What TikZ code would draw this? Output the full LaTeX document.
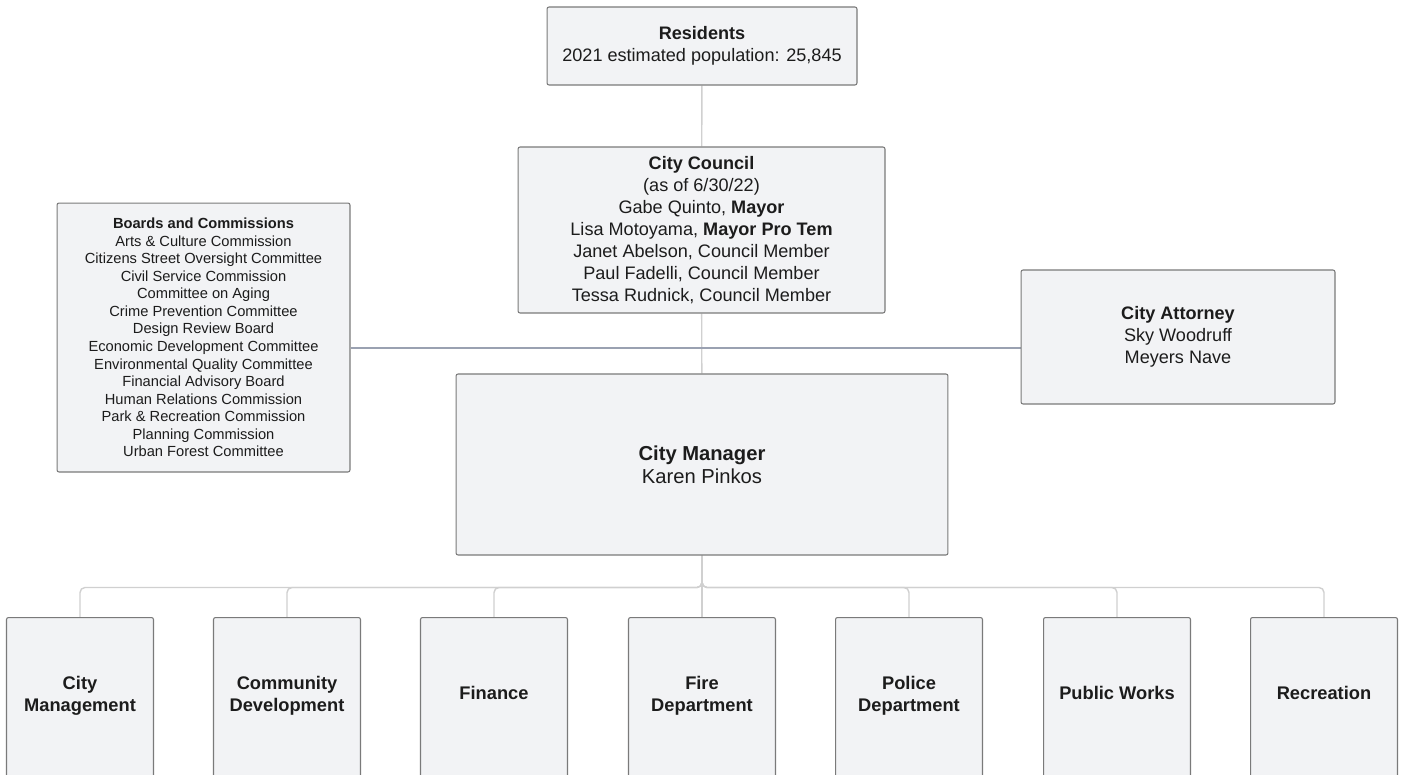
\documentclass[tikz,border=0pt]{standalone}
\usepackage{fontspec}
\setmainfont{Liberation Sans}
\usepackage{tikz}
\usetikzlibrary{positioning}
\definecolor{boxfill}{HTML}{F2F3F5}
\definecolor{boxline}{HTML}{7A7A7A}
\definecolor{linkgray}{HTML}{D0D0D0}
\definecolor{linkblue}{HTML}{9AA1B1}
\definecolor{inkblack}{HTML}{1C1C1C}
\pgfdeclarelayer{edgelayer}
\pgfsetlayers{edgelayer,main}

\begin{document}
\begin{tikzpicture}[x=0.02cm,y=-0.02cm,
  box/.style={draw=boxline,fill=boxfill,line width=0.6pt,rounded corners=0.04cm,align=center,text=inkblack,inner sep=0pt},
  main/.style={box,font=\fontsize{10.3}{12.5}\selectfont},
  dept/.style={box,anchor=north,minimum width=2.94cm,minimum height=4cm},
  dlabel/.style={align=center,text=inkblack,font=\fontsize{10.4}{12.5}\selectfont\bfseries},
  elbow/.style={rounded corners=0.1cm,to path={-- ++(0,32) -| (\tikztotarget)}}]
\clip (0,0) rectangle (1405,774);
\node[main,minimum width=6.2cm,minimum height=1.56cm] (R) at (702,46) {\textbf{Residents}\\2021 estimated population: 25,845};
\node[main,minimum width=7.34cm,minimum height=3.32cm] (C) at (701.5,230) {\textbf{City Council}\\(as of 6/30/22)\\Gabe Quinto, \textbf{Mayor}\\Lisa Motoyama, \textbf{Mayor Pro Tem}\\Janet Abelson, Council Member\\Paul Fadelli, Council Member\\Tessa Rudnick, Council Member};
\node[box,minimum width=5.86cm,minimum height=5.38cm,font=\fontsize{8.35}{10}\selectfont] (B) at (203.5,337.5) {\textbf{Boards and Commissions}\\Arts \& Culture Commission\\Citizens Street Oversight Committee\\Civil Service Commission\\Committee on Aging\\Crime Prevention Committee\\Design Review Board\\Economic Development Committee\\Environmental Quality Committee\\Financial Advisory Board\\Human Relations Commission\\Park \& Recreation Commission\\Planning Commission\\Urban Forest Committee};
\node[main,minimum width=6.28cm,minimum height=2.68cm] (A) at (1178,337) {\textbf{City Attorney}\\Sky Woodruff\\Meyers Nave};
\node[box,minimum width=9.84cm,minimum height=3.62cm,font=\fontsize{11.5}{13}\selectfont] (M) at (702,464.5) {\textbf{City Manager}\\Karen Pinkos};
\coordinate (J) at (702,348);

% departments
\node[dept] (D1) at (80,617) {};
\node[dept] (D2) at (287,617) {};
\node[dept] (D3) at (494,617) {};
\node[dept] (D4) at (702,617) {};
\node[dept] (D5) at (909,617) {};
\node[dept] (D6) at (1117,617) {};
\node[dept] (D7) at (1324,617) {};
\node[dlabel] (d1) at (80,696) {City\\Management};
\node[dlabel] (d2) at (287,696) {Community\\Development};
\node[dlabel] (d3) at (494,693) {Finance};
\node[dlabel] (d4) at (702,696) {Fire\\Department};
\node[dlabel] (d5) at (909,696) {Police\\Department};
\node[dlabel] (d6) at (1117,693) {Public Works};
\node[dlabel] (d7) at (1324,693) {Recreation};

\begin{pgfonlayer}{edgelayer}
\path[draw=linkgray,line width=0.8pt]
(R) edge (C)
(C) edge (M)
(M.south) edge[elbow] (D1.north)
(M.south) edge[elbow] (D2.north)
(M.south) edge[elbow] (D3.north)
(M.south) edge (D4.north)
(M.south) edge[elbow] (D5.north)
(M.south) edge[elbow] (D6.north)
(M.south) edge[elbow] (D7.north);
\path[draw=linkblue,line width=0.6pt]
(B.east |- J) edge (A.west |- J);
\end{pgfonlayer}
\end{tikzpicture}
\end{document}
